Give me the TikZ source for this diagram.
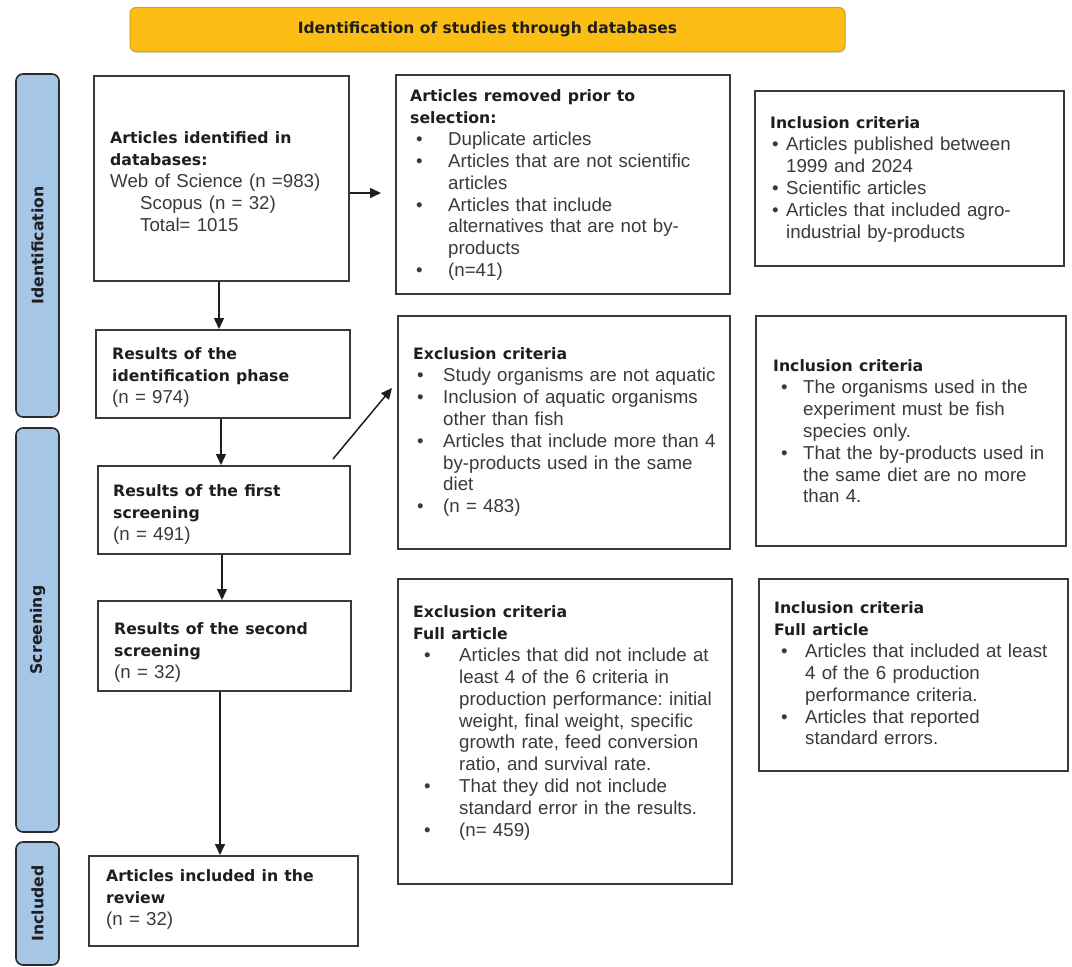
\documentclass[tikz,border=0pt]{standalone}
\usepackage{fontspec}
\setmainfont{Liberation Sans}
\newfontfamily\headfam{DejaVu Sans}
\usetikzlibrary{arrows.meta,shadows}
\frenchspacing
\definecolor{bodycol}{HTML}{3A3A3A}
\definecolor{headcol}{HTML}{1E1E1E}
\definecolor{boxline}{HTML}{3A3A3A}
\definecolor{sideline}{HTML}{2B2B2B}
\definecolor{sidefill}{HTML}{A6C6E8}
\definecolor{bannerfill}{HTML}{FCBD14}
\definecolor{bannerline}{HTML}{D9A01E}
\newcommand\bodyf{\fontsize{18.7}{21.95}\selectfont\frenchspacing}
\newcommand\hd[1]{{\headfam\bfseries\fontsize{15.7}{21.95}\selectfont\color{headcol}#1}}
\newcommand\brk{\newline}
\newcommand\bl[3]{\par\noindent\hangindent=#2pt\hangafter=1\makebox[#2pt][l]{\hspace{#1pt}•}#3\par}
\tikzset{
  box/.style={draw=boxline, line width=1.8pt, fill=white, inner sep=0pt, anchor=north west},
  txtbox/.style={anchor=north west, inner sep=0pt, text width=#1, font=\bodyf, text=bodycol},
  txtbox/.default=300pt,
  sidebar/.style={rotate=90, draw=sideline, fill=sidefill, line width=1.6pt, rounded corners=7pt,
    inner sep=0pt, font=\headfam\bfseries\fontsize{15.7}{18}\selectfont, text=headcol},
  banner/.style={draw=bannerline, fill=bannerfill, line width=1pt, rounded corners=6pt,
    font=\headfam\bfseries\fontsize{15.5}{18}\selectfont, text=headcol,
    drop shadow={opacity=0.25, shadow xshift=0.5pt, shadow yshift=-1.5pt}},
  arr/.style={-{Triangle[length=11pt,width=10pt]}, line width=1.5pt, draw=headcol}
}
\begin{document}
\begin{tikzpicture}[x=1pt,y=-1pt]
\useasboundingbox (0,0) rectangle (1072,967);
\fill[white] (0,0) rectangle (1072,967);

% banner
\node[banner, minimum width=715, minimum height=44] (ban) at (487.5,29.5) {Identification of studies through databases};

% side bars
\node[sidebar, minimum width=343, minimum height=43] (sid1) at (37.5,245.5) {Identification};
\node[sidebar, minimum width=404, minimum height=43] (sid2) at (37.5,630) {Screening};
\node[sidebar, minimum width=123, minimum height=43] (sid3) at (37.5,903.5) {Included};

% left column boxes
\node[box, minimum width=255, minimum height=205] (idbox) at (93,75) {};
\node[txtbox=235pt] (idboxt) at (110,127.7) {\strut\hd{Articles identified in\\databases:}\\Web of Science (n =983)\\\hspace*{30pt}Scopus (n = 32)\\\hspace*{30pt}Total= 1015};

\node[box, minimum width=254, minimum height=88] (idres) at (95,329) {};
\node[txtbox=235pt] (idrest) at (112,343.7) {\strut\hd{Results of the\\identification phase}\\(n = 974)};

\node[box, minimum width=252, minimum height=88] (scr1) at (97,465) {};
\node[txtbox=235pt] (scr1t) at (113,480.7) {\strut\hd{Results of the first\\screening}\\(n = 491)};

\node[box, minimum width=253, minimum height=90] (scr2) at (97,600) {};
\node[txtbox=235pt] (scr2t) at (114,618.7) {\strut\hd{Results of the second\\screening}\\(n = 32)};

\node[box, minimum width=269, minimum height=90] (incl) at (88,855) {};
\node[txtbox=245pt] (inclt) at (106,865.7) {\strut\hd{Articles included in the\\review}\\(n = 32)};

% right column boxes
\node[box, minimum width=334, minimum height=219] (rem) at (395,74) {};
\node[txtbox=316pt] (remt) at (410,85.7) {\strut\hd{Articles removed prior to\\selection:}
\bl{6}{38}{Duplicate articles}
\bl{6}{38}{Articles that are not scientific\brk articles}
\bl{6}{38}{Articles that include\brk alternatives that are not by-\brk products}
\bl{6}{38}{(n=41)}};

\node[box, minimum width=309, minimum height=175] (inc1) at (754,90) {};
\node[txtbox=290pt] (inc1t) at (770,112.7) {\strut\hd{Inclusion criteria}
\bl{2}{16}{Articles published between\brk 1999 and 2024}
\bl{2}{16}{Scientific articles}
\bl{2}{16}{Articles that included agro-\brk industrial by-products}};

\node[box, minimum width=332, minimum height=233] (exc1) at (397,315) {};
\node[txtbox=314pt] (exc1t) at (413,343.7) {\strut\hd{Exclusion criteria}
\bl{4}{30}{Study organisms are not aquatic}
\bl{4}{30}{Inclusion of aquatic organisms\brk other than fish}
\bl{4}{30}{Articles that include more than 4\brk by-products used in the same\brk diet}
\bl{4}{30}{(n = 483)}};

\node[box, minimum width=310, minimum height=230] (inc2) at (755,315) {};
\node[txtbox=290pt] (inc2t) at (773,355.7) {\strut\hd{Inclusion criteria}
\bl{8}{30}{The organisms used in the\brk experiment must be fish\brk species only.}
\bl{8}{30}{That the by-products used in\brk the same diet are no more\brk than 4.}};

\node[box, minimum width=334, minimum height=305] (exc2) at (397,578) {};
\node[txtbox=316pt] (exc2t) at (413,601.7) {\strut\hd{Exclusion criteria\\Full article}
\bl{11}{46}{Articles that did not include at\brk least 4 of the 6 criteria in\brk production performance: initial\brk weight, final weight, specific\brk growth rate, feed conversion\brk ratio, and survival rate.}
\bl{11}{46}{That they did not include\brk standard error in the results.}
\bl{11}{46}{(n= 459)}};

\node[box, minimum width=309, minimum height=192] (inc3) at (758,578) {};
\node[txtbox=290pt] (inc3t) at (774,597.7) {\strut\hd{Inclusion criteria\\Full article}
\bl{7}{31}{Articles that included at least\brk 4 of the 6 production\brk performance criteria.}
\bl{7}{31}{Articles that reported\brk standard errors.}};

% connectors
\coordinate (a1e) at (381,193);
\coordinate (d1) at (333,459);
\coordinate (d2) at (392,388);
\draw[arr] (idbox.south -| 219,0) -- (idres.north -| 219,0);
\draw[arr] (idres.south -| 221,0) -- (scr1.north -| 221,0);
\draw[arr] (scr1.south -| 222,0) -- (scr2.north -| 222,0);
\draw[arr] (scr2.south -| 220,0) -- (incl.north -| 220,0);
\draw[arr] (idbox.east |- a1e) -- (a1e);
\draw[arr] (d1) -- (d2);
\end{tikzpicture}
\end{document}
